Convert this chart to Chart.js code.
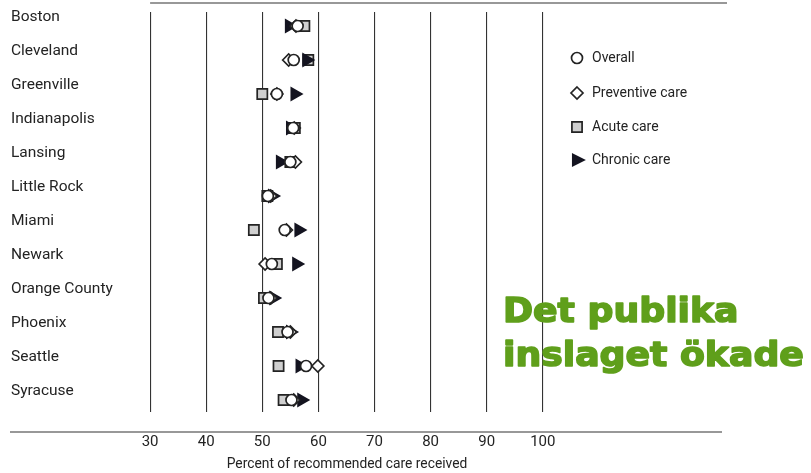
<!DOCTYPE html>
<html><head><meta charset="utf-8">
<script src="https://cdn.jsdelivr.net/npm/chart.js@4.4.0/dist/chart.umd.min.js"></script>
<style>html,body{margin:0;padding:0;background:#fff;}#wrap{width:811px;height:473px;}</style>
</head><body><div id="wrap"><canvas id="c" width="811" height="473"></canvas></div>
<script>
const cities = ['Boston','Cleveland','Greenville','Indianapolis','Lansing','Little Rock','Miami','Newark','Orange County','Phoenix','Seattle','Syracuse'];
const overall    = [56.3, 55.6, 52.6, 55.5, 55.0, 51.0, 54.0, 51.7, 51.1, 54.5, 57.8, 55.2];
const preventive = [56.0, 54.7, 52.6, 55.7, 55.9, 51.5, 54.3, 50.5, 51.5, 55.0, 59.9, 55.6];
const acute      = [57.5, 58.2, 50.0, 55.8, 55.0, 50.9, 48.5, 52.6, 50.3, 52.8, 52.9, 53.8];
const chronic    = [54.8, 57.9, 55.8, 55.0, 53.2, 51.8, 56.5, 56.1, 52.0, 55.0, 56.7, 57.0];
const xTicks = [30, 40, 50, 60, 70, 80, 90, 100];
const seriesNames = ['Overall', 'Preventive care', 'Acute care', 'Chronic care'];
const axisTitle = 'Percent of recommended care received';
const overlayLines = ['Det publika', 'inslaget ökade'];

const pts = arr => arr.map((v, i) => ({x: v, y: i}));
const FONT = 'Roboto, "Liberation Sans", Arial, sans-serif';
const INK = '#232323';

const styles = [
  {pointStyle: 'circle', radius: 5.5, bg: '#ffffff', border: INK, rot: 0, order: 1},
  {pointStyle: 'rectRot', radius: 6, bg: '#ffffff', border: INK, rot: 0, order: 2},
  {pointStyle: 'rect', radius: 7.2, bg: '#cfcfcf', border: INK, rot: 0, order: 4},
  {pointStyle: 'triangle', radius: 7, bg: '#141420', border: '#141420', rot: 90, order: 3}
];
const values = [overall, preventive, acute, chronic];

const datasets = values.map((arr, k) => ({
  label: seriesNames[k],
  data: pts(arr),
  showLine: false,
  pointStyle: styles[k].pointStyle,
  pointRadius: styles[k].radius,
  pointHoverRadius: styles[k].radius,
  pointRotation: styles[k].rot,
  pointBackgroundColor: styles[k].bg,
  pointBorderColor: styles[k].border,
  pointBorderWidth: 1.7,
  order: styles[k].order
}));

function drawShape(ctx, st, x, y) {
  const r = st.radius;
  ctx.save();
  ctx.fillStyle = st.bg; ctx.strokeStyle = st.border; ctx.lineWidth = 1.7;
  ctx.beginPath();
  if (st.pointStyle === 'circle') ctx.arc(x, y, r, 0, Math.PI * 2);
  else if (st.pointStyle === 'rectRot') { ctx.moveTo(x, y - r); ctx.lineTo(x + r, y); ctx.lineTo(x, y + r); ctx.lineTo(x - r, y); ctx.closePath(); }
  else if (st.pointStyle === 'rect') { const s = r * Math.SQRT1_2; ctx.rect(x - s, y - s, 2 * s, 2 * s); }
  else { ctx.moveTo(x + r, y); ctx.lineTo(x - r * 0.6, y - r * 0.8); ctx.lineTo(x - r * 0.6, y + r * 0.8); ctx.closePath(); }
  ctx.fill(); ctx.stroke();
  ctx.restore();
}

const decor = {
  id: 'decor',
  beforeDraw(chart) {
    const {ctx, chartArea: a, scales: {x}} = chart;
    ctx.save();
    ctx.strokeStyle = '#333'; ctx.lineWidth = 1.2;
    ctx.beginPath();
    ctx.moveTo(x.getPixelForValue(30), a.top - 9);
    ctx.lineTo(727, a.top - 9);
    ctx.stroke();
    ctx.beginPath();
    ctx.moveTo(10, a.bottom + 20);
    ctx.lineTo(722, a.bottom + 20);
    ctx.stroke();
    ctx.restore();
  },
  afterDraw(chart) {
    const ctx = chart.ctx;
    const ly = [58, 93, 127, 160];
    ctx.save();
    ctx.font = '14px ' + FONT;
    ctx.textBaseline = 'middle';
    seriesNames.forEach((n, k) => {
      drawShape(ctx, styles[k], 577, ly[k]);
      ctx.fillStyle = INK;
      ctx.fillText(n, 592, ly[k]);
    });
    ctx.restore();
    ctx.save();
    ctx.fillStyle = '#5f9f1b';
    ctx.strokeStyle = '#5f9f1b';
    ctx.lineWidth = 1.6;
    ctx.lineJoin = 'round';
    ctx.font = 'bold 34px "DejaVu Sans", Verdana, sans-serif';
    ctx.textBaseline = 'alphabetic';
    const bl = [322, 366];
    overlayLines.forEach((t, i) => {
      ctx.save();
      ctx.translate(503, bl[i]);
      ctx.scale(1.065, 1);
      ctx.fillText(t, 0, 0);
      ctx.strokeText(t, 0, 0);
      ctx.restore();
    });
    ctx.restore();
  }
};

new Chart(document.getElementById('c'), {
  type: 'scatter',
  data: {datasets},
  options: {
    responsive: false,
    animation: false,
    layout: {padding: {left: 11, right: 257, top: 12, bottom: 0}},
    plugins: {legend: {display: false}, tooltip: {enabled: false}},
    scales: {
      x: {
        type: 'linear', min: 28.2, max: 102,
        afterBuildTicks: s => { s.ticks = xTicks.map(v => ({value: v})); },
        grid: {display: true, color: '#333', lineWidth: 1.1, drawTicks: false},
        border: {display: false},
        ticks: {color: INK, font: {family: FONT, size: 15}, padding: 21, maxRotation: 0},
        title: {display: true, text: axisTitle, color: INK, font: {family: FONT, size: 13.8}, padding: {top: 1, bottom: 0}},
        afterFit: s => { s.height = 61; }
      },
      y: {
        type: 'linear', reverse: true, min: -0.412, max: 11.353,
        afterBuildTicks: s => { s.ticks = cities.map((c, i) => ({value: i})); },
        grid: {display: false},
        border: {display: false},
        ticks: {callback: v => cities[v], color: INK, font: {family: FONT, size: 15.5}, crossAlign: 'far', labelOffset: -9, padding: 0},
        afterFit: s => { s.width = 129; }
      }
    }
  },
  plugins: [decor]
});
</script></body></html>
